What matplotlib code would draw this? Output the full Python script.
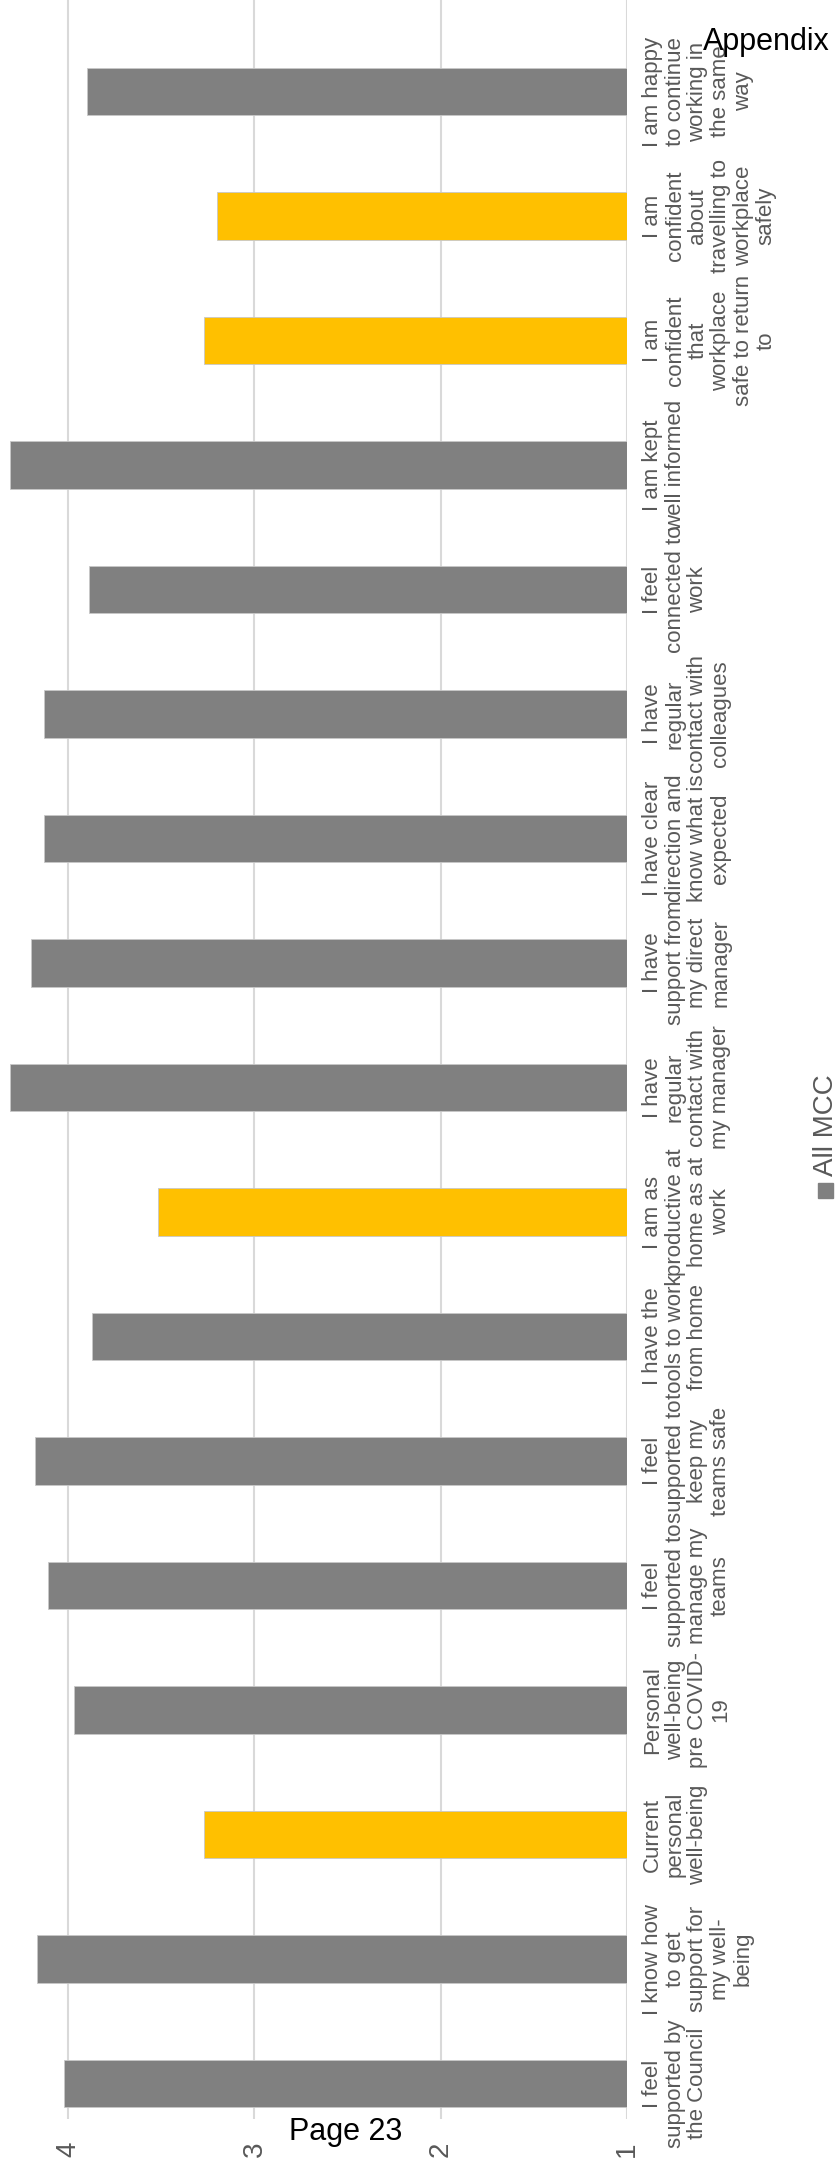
import matplotlib
matplotlib.use("Agg")
import matplotlib.pyplot as plt
from matplotlib.patches import Rectangle

plt.rcParams['font.family'] = ['Liberation Sans', 'DejaVu Sans']

# survey statements, first one drawn at the bottom
categories = [
    "I feel\nsupported by\nthe Council",
    "I know how\nto get\nsupport for\nmy well-\nbeing",
    "Current\npersonal\nwell-being",
    "Personal\nwell-being\npre COVID-\n19",
    "I feel\nsupported to\nmanage my\nteams",
    "I feel\nsupported to\nkeep my\nteams safe",
    "I have the\ntools to work\nfrom home",
    "I am as\nproductive at\nhome as at\nwork",
    "I have\nregular\ncontact with\nmy manager",
    "I have\nsupport from\nmy direct\nmanager",
    "I have clear\ndirection and\nknow what is\nexpected",
    "I have\nregular\ncontact with\ncolleagues",
    "I feel\nconnected to\nwork",
    "I am kept\nwell informed",
    "I am\nconfident\nthat\nworkplace\nsafe to return\nto",
    "I am\nconfident\nabout\ntravelling to\nworkplace\nsafely",
    "I am happy\nto continue\nworking in\nthe same\nway",
]
all_mcc = [4.02, 4.17, 3.27, 3.97, 4.11, 4.18, 3.87, 3.52, 4.31,
           4.20, 4.13, 4.13, 3.89, 4.31, 3.27, 3.20, 3.90]
low_score = [False, False, True, False, False, False, False, True, False,
             False, False, False, False, False, True, True, False]
ticks = [1, 2, 3, 4]

GREY = '#808080'
AMBER = '#FFC000'
TEXT = '#595959'

W, H = 837, 2167
fig = plt.figure(figsize=(W / 100, H / 100), dpi=100)
ax = fig.add_axes([0, (H - 2119) / H, 627 / W, 2119 / H])

ypos = list(range(len(categories)))
colors = [AMBER if flag else GREY for flag in low_score]
ax.barh(ypos, [v - 1 for v in all_mcc], left=1, height=0.38,
        color=colors, edgecolor='#c8c8c8', linewidth=0.6, zorder=3)

ax.set_xlim(4.366, 1)
ax.set_ylim(-0.285, 16.735)

ax.set_xticks(ticks)
ax.set_xticklabels([str(t) for t in ticks], rotation=90, fontsize=20,
                   color=TEXT, va='top', ha='center')
ax.tick_params(axis='x', length=0, pad=16)
ax.grid(axis='x', color='#d9d9d9', linewidth=1.5, zorder=0)

ax.yaxis.tick_right()
ax.set_yticks(ypos)
ax.set_yticklabels(categories, rotation=90, fontsize=16, color=TEXT,
                   ha='left', va='center', multialignment='center',
                   linespacing=1.1)
ax.tick_params(axis='y', length=0, pad=11)

for side in ax.spines.values():
    side.set_visible(False)

# legend entry, turned like the rest of the chart
fig.patches.append(Rectangle((818 / W, (H - 1198) / H), 15 / W, 15 / H,
                             transform=fig.transFigure, color=GREY))
fig.text(826 / W, (H - 1125) / H, "All MCC", rotation=90, fontsize=20,
         color=TEXT, ha='center', va='center')

fig.text(346 / W, (H - 2132) / H, "Page 23", fontsize=22, color='black',
         ha='center', va='center')
fig.text(766 / W, (H - 42) / H, "Appendix", fontsize=22, color='black',
         ha='center', va='center', zorder=10)

fig.savefig('out.png', dpi=100, facecolor='white')
